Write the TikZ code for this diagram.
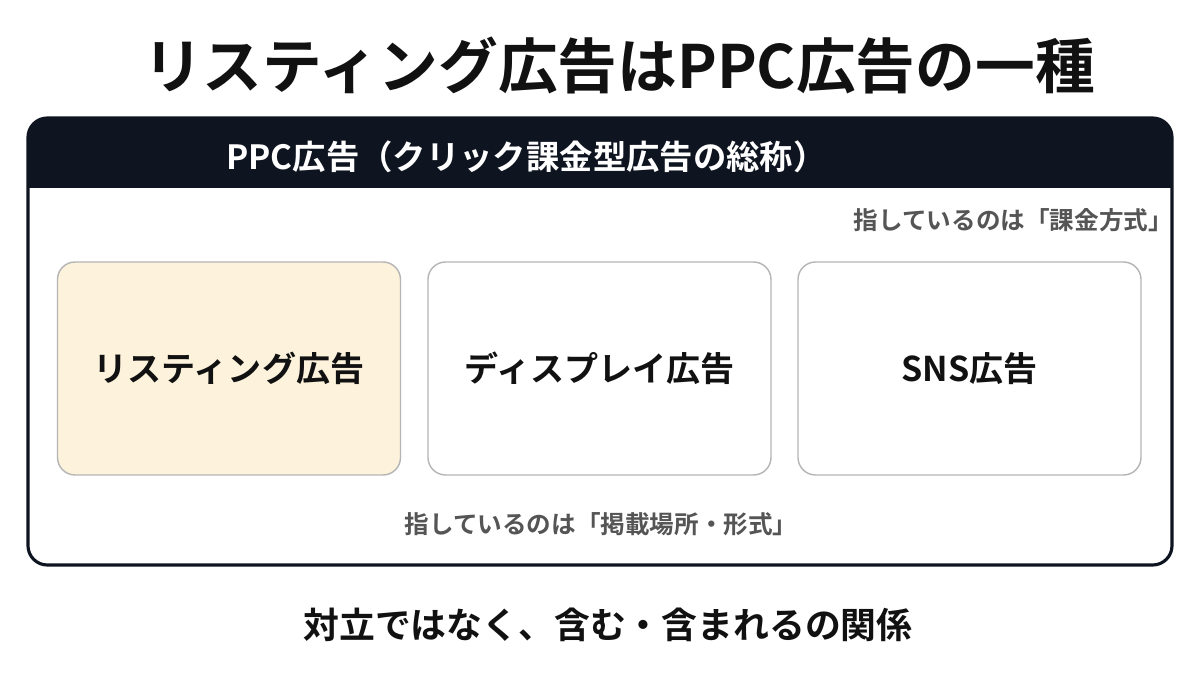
\documentclass[tikz,border=0pt]{standalone}
\usepackage{fontspec}
\setmainfont{Noto Sans CJK JP}[BoldFont={Noto Sans CJK JP Bold}]
\usetikzlibrary{positioning}

\definecolor{headdark}{HTML}{0F1520}
\definecolor{creamfill}{HTML}{FDF3DC}
\definecolor{boxline}{HTML}{B5B5B5}
\definecolor{notegray}{HTML}{555555}
\definecolor{inkblack}{HTML}{111111}

\tikzset{
  adbox/.style = {draw = boxline, line width = 0.8pt, rounded corners = 10pt, fill = white,
                  minimum width = 343*0.02cm, minimum height = 213*0.02cm,
                  font = \fontsize{19.4}{23}\selectfont\bfseries, text = inkblack},
  notetext/.style = {font = \fontsize{14}{17}\selectfont\bfseries, text = notegray},
}

\begin{document}
\begin{tikzpicture}[x = 0.02cm, y = -0.02cm]
\useasboundingbox (0,0) rectangle (1200,675);
\fill[white] (0,0) rectangle (1200,675);

% title
\node[font = \fontsize{34}{40}\selectfont\bfseries, text = inkblack] (title) at (619,65) {リスティング広告はPPC広告の一種};

% PPC frame with dark header
\begin{scope}
\clip[rounded corners = 11pt] (28,118) rectangle (1172,565);
\fill[headdark] (28,118) rectangle (1172,188);
\end{scope}
\draw[headdark, line width = 1.8pt, rounded corners = 11pt] (28,118) rectangle (1172,565);
\node[anchor = west, font = \fontsize{19}{23}\selectfont\bfseries, text = white] (ppc) at (220,157) {PPC広告（クリック課金型広告の総称）};

\node[notetext, anchor = east] (billing) at (1179,220) {指しているのは「課金方式」};

% the three ad types
\node[adbox, fill = creamfill] (listing) at (229,368.5) {リスティング広告};
\node[adbox] (display) at (599.5,368.5) {ディスプレイ広告};
\node[adbox] (sns) at (969.5,368.5) {SNS広告};

\node[notetext] (placement) at (601,524) {指しているのは「掲載場所・形式」};

% bottom line
\node[font = \fontsize{20.4}{24}\selectfont\bfseries, text = inkblack] (relation) at (608,625) {対立ではなく、含む・含まれるの関係};
\end{tikzpicture}
\end{document}
